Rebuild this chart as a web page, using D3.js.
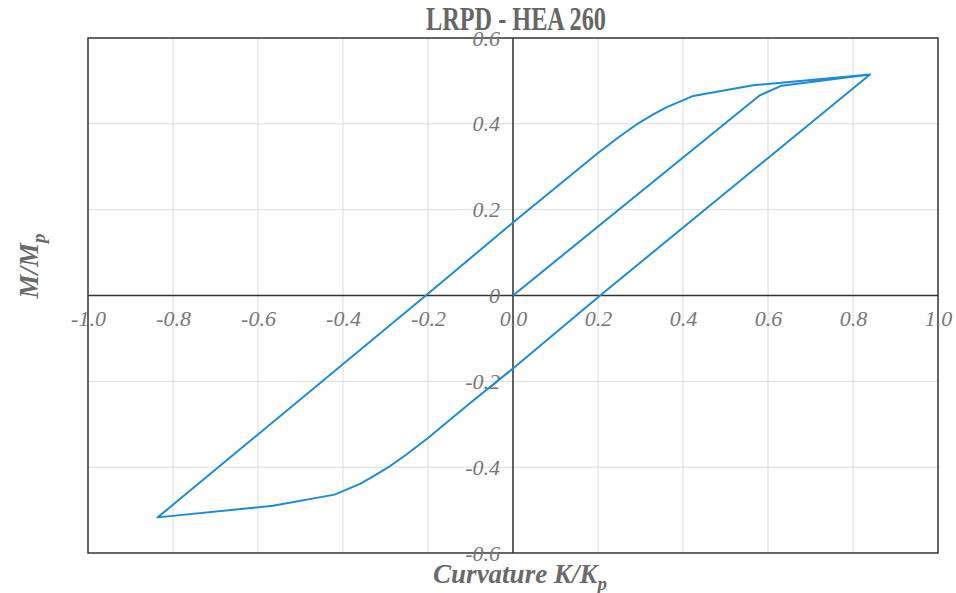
<!DOCTYPE html>
<html>
<head>
<meta charset="utf-8">
<script src="https://cdn.jsdelivr.net/npm/d3@7"></script>
<style>
  body { margin: 0; background: #fff; }
  svg text { font-family: "Liberation Serif", "Times New Roman", serif; }
</style>
</head>
<body>
<div id="chart"></div>
<script>
// hysteresis loop
const curvature = [0, 0.58, 0.632, 0.84, 0.205, 0, -0.1, -0.2, -0.25, -0.29, -0.33, -0.36, -0.42, -0.565, -0.836,
  -0.205, 0, 0.2, 0.25, 0.29, 0.33, 0.362, 0.424, 0.565, 0.84];
const moment = [0, 0.466, 0.489, 0.515, 0, -0.17, -0.25, -0.332, -0.37, -0.398, -0.422, -0.439, -0.464, -0.49, -0.517,
  0, 0.17, 0.332, 0.37, 0.398, 0.422, 0.439, 0.465, 0.49, 0.515];

const xTicks = [-1, -0.8, -0.6, -0.4, -0.2, 0, 0.2, 0.4, 0.6, 0.8, 1];
const xTickLabels = ["-1.0", "-0.8", "-0.6", "-0.4", "-0.2", "0.0", "0.2", "0.4", "0.6", "0.8", "1.0"];
const yTicks = [0.6, 0.4, 0.2, 0, -0.2, -0.4, -0.6];
const yTickLabels = ["0.6", "0.4", "0.2", "0", "-0.2", "-0.4", "-0.6"];

const width = 956, height = 593;
const margin = { top: 38, right: 18, bottom: 40, left: 88 };

const svg = d3.select("#chart").append("svg")
  .attr("width", width)
  .attr("height", height);

const x = d3.scaleLinear().domain([-1, 1]).range([margin.left, width - margin.right]);
const y = d3.scaleLinear().domain([-0.6, 0.6]).range([height - margin.bottom, margin.top]);

// grid
svg.append("g").selectAll("line")
  .data(xTicks.slice(1, -1))
  .join("line")
  .attr("x1", d => x(d)).attr("x2", d => x(d))
  .attr("y1", y(0.6)).attr("y2", y(-0.6))
  .attr("stroke", "#dcdcdc").attr("stroke-width", 1);
svg.append("g").selectAll("line")
  .data(yTicks.slice(1, -1))
  .join("line")
  .attr("x1", x(-1)).attr("x2", x(1))
  .attr("y1", d => y(d)).attr("y2", d => y(d))
  .attr("stroke", "#dcdcdc").attr("stroke-width", 1);

// zero axes
svg.append("line")
  .attr("x1", x(-1)).attr("x2", x(1))
  .attr("y1", y(0)).attr("y2", y(0))
  .attr("stroke", "#333").attr("stroke-width", 1.5);
svg.append("line")
  .attr("x1", x(0)).attr("x2", x(0))
  .attr("y1", y(0.6)).attr("y2", y(-0.6))
  .attr("stroke", "#333").attr("stroke-width", 1.5);

// frame
svg.append("rect")
  .attr("x", x(-1)).attr("y", y(0.6))
  .attr("width", x(1) - x(-1)).attr("height", y(-0.6) - y(0.6))
  .attr("fill", "none").attr("stroke", "#333").attr("stroke-width", 1.5);

// tick labels
const xAxis = d3.axisBottom(x).tickValues(xTicks).tickSize(0).tickPadding(15)
  .tickFormat((d, i) => xTickLabels[i]);
const gx = svg.append("g").attr("transform", `translate(0,${y(0)})`).call(xAxis);
const yAxis = d3.axisLeft(y).tickValues(yTicks).tickSize(0).tickPadding(13)
  .tickFormat((d, i) => yTickLabels[i]);
const gy = svg.append("g").attr("transform", `translate(${x(0)},0)`).call(yAxis);
[gx, gy].forEach(g => {
  g.attr("font-family", null).attr("font-size", null);
  g.select(".domain").remove();
  g.selectAll("text")
    .attr("fill", "#777")
    .style("font-family", "'Liberation Serif', serif")
    .style("font-style", "italic")
    .style("font-size", "22px");
});

// curve
const pts = curvature.map((c, i) => [c, moment[i]]);
const line = d3.line().x(d => x(d[0])).y(d => y(d[1]));
svg.append("path")
  .datum(pts)
  .attr("d", line)
  .attr("fill", "none")
  .attr("stroke", "#1f8bd6")
  .attr("stroke-width", 2)
  .attr("stroke-linejoin", "round");

// title
svg.append("text")
  .attr("x", 516).attr("y", 30)
  .attr("text-anchor", "middle")
  .attr("textLength", 180).attr("lengthAdjust", "spacingAndGlyphs")
  .attr("fill", "#666")
  .style("font-weight", "bold")
  .style("font-size", "33px")
  .text("LRPD - HEA 260");

// axis titles
const xt = svg.append("text")
  .attr("x", 520).attr("y", 583)
  .attr("text-anchor", "middle")
  .attr("fill", "#6a6a6a")
  .style("font-weight", "bold").style("font-style", "italic")
  .style("font-size", "27px");
xt.append("tspan").text("Curvature K/K");
xt.append("tspan").attr("dy", 7).style("font-size", "19px").text("p");

const yt = svg.append("text")
  .attr("transform", `translate(38,266) rotate(-90)`)
  .attr("text-anchor", "middle")
  .attr("fill", "#6a6a6a")
  .style("font-weight", "bold").style("font-style", "italic")
  .style("font-size", "27px");
yt.append("tspan").text("M/M");
yt.append("tspan").attr("dy", 7).style("font-size", "19px").text("p");
</script>
</body>
</html>
